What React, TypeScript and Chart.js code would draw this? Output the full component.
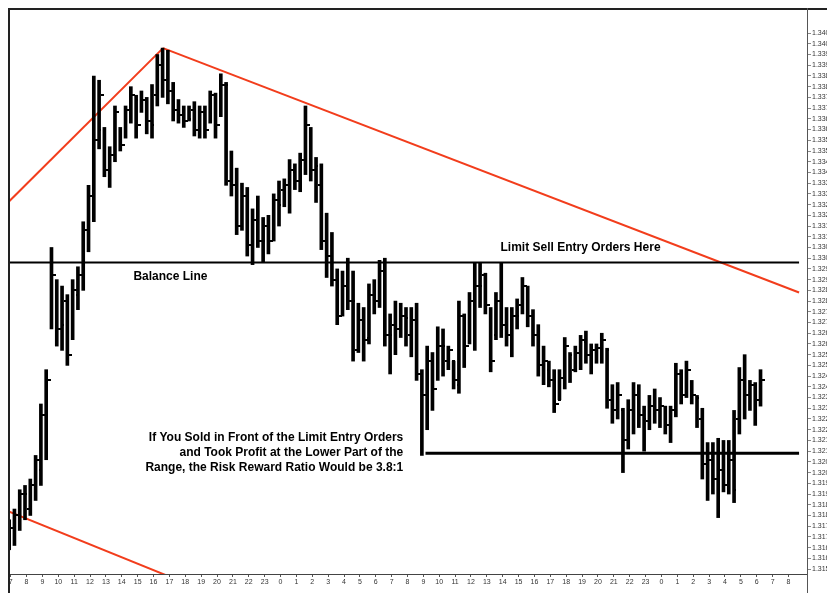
import React, { useEffect, useRef } from 'react';
import { Chart, registerables } from 'chart.js';

Chart.register(...registerables);

// ---- x axis: hourly tick labels (20-minute bars, 3 per hour) ----
const hourLabels = [
  '7', '8', '9', '10', '11', '12', '13', '14', '15', '16', '17', '18', '19', '20', '21', '22', '23',
  '0', '1', '2', '3', '4', '5', '6', '7', '8', '9', '10', '11', '12', '13', '14', '15', '16', '17', '18', '19', '20', '21', '22', '23',
  '0', '1', '2', '3', '4', '5', '6', '7', '8',
];

// ---- price bars ----
const highs = [
  1.3178, 1.3183, 1.3192, 1.3194, 1.3197, 1.3208, 1.3232, 1.3248, 1.3305, 1.3290,
  1.3287, 1.3283, 1.3290, 1.3296, 1.3317, 1.3334, 1.3385, 1.3383, 1.3361, 1.3352,
  1.3371, 1.3361, 1.3371, 1.3380, 1.3376, 1.3378, 1.3375, 1.3381, 1.3395, 1.3398,
  1.3397, 1.3382, 1.3374, 1.3371, 1.3371, 1.3373, 1.3371, 1.3371, 1.3378, 1.3377,
  1.3386, 1.3382, 1.3350, 1.3342, 1.3335, 1.3333, 1.3323, 1.3329, 1.3319, 1.3320,
  1.3330, 1.3336, 1.3337, 1.3346, 1.3344, 1.3349, 1.3371, 1.3361, 1.3347, 1.3344,
  1.3321, 1.3312, 1.3295, 1.3294, 1.3300, 1.3294, 1.3279, 1.3277, 1.3288, 1.3290,
  1.3299, 1.3300, 1.3274, 1.3280, 1.3279, 1.3277, 1.3277, 1.3279, 1.3248, 1.3259,
  1.3256, 1.3268, 1.3267, 1.3259, 1.3252, 1.3280, 1.3274, 1.3284, 1.3298, 1.3298,
  1.3293, 1.3277, 1.3284, 1.3298, 1.3277, 1.3277, 1.3281, 1.3291, 1.3287, 1.3276,
  1.3269, 1.3259, 1.3252, 1.3248, 1.3248, 1.3263, 1.3256, 1.3259, 1.3264, 1.3266,
  1.3260, 1.3260, 1.3265, 1.3258, 1.3241, 1.3242, 1.3230, 1.3234, 1.3242, 1.3241,
  1.3231, 1.3236, 1.3239, 1.3235, 1.3231, 1.3231, 1.3251, 1.3248, 1.3252, 1.3243,
  1.3236, 1.3230, 1.3214, 1.3214, 1.3216, 1.3215, 1.3215, 1.3229, 1.3249, 1.3255,
  1.3243, 1.3242, 1.3248,
];

const lows = [
  1.3164, 1.3166, 1.3173, 1.3178, 1.3180, 1.3187, 1.3194, 1.3206, 1.3267, 1.3259,
  1.3257, 1.3250, 1.3262, 1.3276, 1.3285, 1.3303, 1.3317, 1.3351, 1.3338, 1.3333,
  1.3345, 1.3350, 1.3356, 1.3363, 1.3356, 1.3368, 1.3358, 1.3356, 1.3371, 1.3375,
  1.3372, 1.3364, 1.3363, 1.3361, 1.3364, 1.3357, 1.3356, 1.3356, 1.3363, 1.3356,
  1.3366, 1.3334, 1.3329, 1.3311, 1.3313, 1.3301, 1.3297, 1.3305, 1.3298, 1.3302,
  1.3308, 1.3315, 1.3324, 1.3321, 1.3332, 1.3331, 1.3339, 1.3336, 1.3326, 1.3304,
  1.3291, 1.3287, 1.3269, 1.3273, 1.3276, 1.3252, 1.3256, 1.3252, 1.3260, 1.3274,
  1.3277, 1.3259, 1.3246, 1.3255, 1.3263, 1.3259, 1.3254, 1.3243, 1.3208, 1.3220,
  1.3229, 1.3243, 1.3245, 1.3248, 1.3239, 1.3237, 1.3249, 1.3260, 1.3257, 1.3277,
  1.3274, 1.3247, 1.3262, 1.3263, 1.3259, 1.3254, 1.3267, 1.3274, 1.3268, 1.3259,
  1.3245, 1.3241, 1.3240, 1.3228, 1.3234, 1.3239, 1.3242, 1.3247, 1.3248, 1.3251,
  1.3246, 1.3251, 1.3251, 1.3230, 1.3223, 1.3225, 1.3200, 1.3211, 1.3218, 1.3221,
  1.3210, 1.3220, 1.3223, 1.3221, 1.3218, 1.3214, 1.3226, 1.3232, 1.3235, 1.3232,
  1.3221, 1.3197, 1.3187, 1.3190, 1.3179, 1.3191, 1.3190, 1.3186, 1.3218, 1.3225,
  1.3229, 1.3222, 1.3231,
];

const opens = [
  1.3166, 1.3173, 1.3180, 1.3190, 1.3183, 1.3192, 1.3201, 1.3225, 1.3271, 1.3287,
  1.3269, 1.3280, 1.3264, 1.3283, 1.3290, 1.3308, 1.3327, 1.3360, 1.3360, 1.3341,
  1.3348, 1.3360, 1.3357, 1.3367, 1.3374, 1.3369, 1.3371, 1.3362, 1.3374, 1.3390,
  1.3383, 1.3378, 1.3369, 1.3367, 1.3365, 1.3369, 1.3361, 1.3368, 1.3364, 1.3375,
  1.3367, 1.3381, 1.3339, 1.3336, 1.3315, 1.3329, 1.3306, 1.3318, 1.3308, 1.3315,
  1.3309, 1.3325, 1.3329, 1.3332, 1.3340, 1.3336, 1.3346, 1.3360, 1.3343, 1.3334,
  1.3311, 1.3301, 1.3290, 1.3276, 1.3287, 1.3280, 1.3259, 1.3271, 1.3263, 1.3283,
  1.3280, 1.3294, 1.3264, 1.3269, 1.3267, 1.3272, 1.3264, 1.3271, 1.3246, 1.3234,
  1.3252, 1.3244, 1.3259, 1.3252, 1.3252, 1.3241, 1.3272, 1.3262, 1.3280, 1.3287,
  1.3291, 1.3276, 1.3264, 1.3280, 1.3271, 1.3264, 1.3273, 1.3278, 1.3286, 1.3273,
  1.3264, 1.3250, 1.3248, 1.3243, 1.3234, 1.3243, 1.3255, 1.3249, 1.3256, 1.3261,
  1.3255, 1.3257, 1.3258, 1.3257, 1.3234, 1.3229, 1.3229, 1.3215, 1.3229, 1.3236,
  1.3225, 1.3225, 1.3231, 1.3229, 1.3229, 1.3222, 1.3229, 1.3246, 1.3236, 1.3242,
  1.3235, 1.3225, 1.3204, 1.3206, 1.3197, 1.3201, 1.3194, 1.3192, 1.3225, 1.3243,
  1.3236, 1.3241, 1.3234,
];

const closes = [
  1.3174, 1.3180, 1.3190, 1.3183, 1.3194, 1.3206, 1.3227, 1.3243, 1.3292, 1.3267,
  1.3280, 1.3255, 1.3285, 1.3292, 1.3313, 1.3329, 1.3355, 1.3376, 1.3341, 1.3348,
  1.3368, 1.3353, 1.3369, 1.3376, 1.3362, 1.3374, 1.3364, 1.3376, 1.3390, 1.3383,
  1.3378, 1.3369, 1.3367, 1.3364, 1.3369, 1.3360, 1.3368, 1.3360, 1.3376, 1.3362,
  1.3381, 1.3336, 1.3334, 1.3315, 1.3329, 1.3306, 1.3318, 1.3308, 1.3315, 1.3308,
  1.3327, 1.3332, 1.3334, 1.3341, 1.3336, 1.3346, 1.3362, 1.3341, 1.3334, 1.3308,
  1.3301, 1.3290, 1.3273, 1.3287, 1.3280, 1.3257, 1.3271, 1.3262, 1.3283, 1.3280,
  1.3294, 1.3264, 1.3269, 1.3267, 1.3273, 1.3264, 1.3271, 1.3246, 1.3236, 1.3252,
  1.3239, 1.3259, 1.3252, 1.3257, 1.3243, 1.3273, 1.3259, 1.3280, 1.3287, 1.3292,
  1.3278, 1.3252, 1.3280, 1.3269, 1.3264, 1.3273, 1.3278, 1.3287, 1.3273, 1.3264,
  1.3250, 1.3252, 1.3243, 1.3232, 1.3244, 1.3259, 1.3248, 1.3256, 1.3262, 1.3255,
  1.3257, 1.3258, 1.3262, 1.3234, 1.3229, 1.3236, 1.3215, 1.3229, 1.3236, 1.3227,
  1.3224, 1.3231, 1.3229, 1.3231, 1.3222, 1.3229, 1.3246, 1.3236, 1.3248, 1.3236,
  1.3225, 1.3204, 1.3206, 1.3197, 1.3201, 1.3194, 1.3206, 1.3225, 1.3243, 1.3236,
  1.3241, 1.3234, 1.3243,
];

// ---- y axis tick labels ----
const yTicks = [
  1.3155, 1.3160, 1.3165, 1.3170, 1.3175, 1.3180, 1.3185, 1.3190, 1.3195, 1.3200,
  1.3205, 1.3210, 1.3215, 1.3220, 1.3225, 1.3230, 1.3235, 1.3240, 1.3245, 1.3250,
  1.3255, 1.3260, 1.3265, 1.3270, 1.3275, 1.3280, 1.3285, 1.3290, 1.3295, 1.3300,
  1.3305, 1.3310, 1.3315, 1.3320, 1.3325, 1.3330, 1.3335, 1.3340, 1.3345, 1.3350,
  1.3355, 1.3360, 1.3365, 1.3370, 1.3375, 1.3380, 1.3385, 1.3390, 1.3395, 1.3400,
  1.3405,
];

// ---- horizontal levels and trend lines (x in bar-index units) ----
const balanceLine = [{ x: -0.5, y: 1.3298 }, { x: 149, y: 1.3298 }];
const profitLine = [{ x: 78.4, y: 1.3209 }, { x: 149, y: 1.3209 }];
const upTrend = [{ x: -0.5, y: 1.3326 }, { x: 28.8, y: 1.3398 }];
const downTrend = [{ x: 28.8, y: 1.3398 }, { x: 149, y: 1.3284 }];
const lowerTrend = [{ x: -0.5, y: 1.3182 }, { x: 31.5, y: 1.3150 }];

// ---- annotation texts ----
const balanceText = 'Balance Line';
const limitText = 'Limit Sell Entry Orders Here';
const rrText = [
  'If You Sold in Front of the Limit Entry Orders',
  'and Took Profit at the Lower Part of the',
  'Range, the Risk Reward Ratio Would be 3.8:1',
];

const categories: string[] = [];
hourLabels.forEach((h) => { categories.push(h, '', ''); });
categories.push('');

const Y_MIN = 1.31527;
const Y_MAX = 1.34167;
const RED = '#f23d1c';
const FONT = '"Liberation Sans", Arial, sans-serif';

const framePlugin = {
  id: 'frame',
  afterDraw(chart: any) {
    const { ctx, chartArea, width, height } = chart;
    ctx.save();
    ctx.strokeStyle = '#222';
    ctx.lineWidth = 2;
    ctx.beginPath();
    ctx.moveTo(0, 1);
    ctx.lineTo(width, 1);
    ctx.moveTo(1, 0);
    ctx.lineTo(1, height);
    ctx.stroke();
    ctx.strokeStyle = '#555';
    ctx.lineWidth = 1;
    ctx.beginPath();
    ctx.moveTo(Math.round(chartArea.right) + 0.5, 0);
    ctx.lineTo(Math.round(chartArea.right) + 0.5, height);
    ctx.stroke();
    ctx.restore();
  },
};

const ohlcTicksPlugin = {
  id: 'ohlcTicks',
  afterDatasetsDraw(chart: any) {
    const { ctx } = chart;
    const xs = chart.scales.x;
    const ys = chart.scales.y;
    ctx.save();
    ctx.strokeStyle = '#000';
    ctx.lineWidth = 2;
    ctx.beginPath();
    for (let i = 0; i < highs.length; i++) {
      const cx = Math.round(xs.getPixelForValue(i));
      const oy = Math.round(ys.getPixelForValue(opens[i]));
      const cy = Math.round(ys.getPixelForValue(closes[i]));
      ctx.moveTo(cx - 3, oy);
      ctx.lineTo(cx, oy);
      ctx.moveTo(cx, cy);
      ctx.lineTo(cx + 3, cy);
    }
    ctx.stroke();
    ctx.restore();
  },
};

const notesPlugin = {
  id: 'notes',
  afterDatasetsDraw(chart: any) {
    const { ctx } = chart;
    const x2 = chart.scales.x2;
    const ys = chart.scales.y;
    ctx.save();
    ctx.fillStyle = '#000';
    ctx.font = `bold 12px ${FONT}`;
    ctx.textBaseline = 'middle';
    const by = ys.getPixelForValue(balanceLine[0].y);
    ctx.textAlign = 'center';
    ctx.fillText(balanceText, x2.getPixelForValue(30.2), by + 14);
    ctx.fillText(limitText, x2.getPixelForValue(107.7), by - 15);
    const py = ys.getPixelForValue(profitLine[0].y);
    ctx.textAlign = 'right';
    rrText.forEach((t, k) => {
      ctx.fillText(t, x2.getPixelForValue(74.2), py - 16 + k * 15);
    });
    ctx.restore();
  },
};

export default function App() {
  const ref = useRef<HTMLCanvasElement | null>(null);

  useEffect(() => {
    document.body.style.overflow = 'hidden';
    if (!ref.current) return;
    const lineDs = (data: any[], color: string, width: number) => ({
      type: 'line' as const,
      data,
      xAxisID: 'x2',
      yAxisID: 'y',
      borderColor: color,
      borderWidth: width,
      pointRadius: 0,
      fill: false,
      tension: 0,
    });
    const chart = new Chart(ref.current, {
      type: 'bar',
      data: {
        labels: categories,
        datasets: [
          {
            type: 'bar',
            data: highs.map((h, i) => [lows[i], h]),
            backgroundColor: '#000',
            borderWidth: 0,
            barThickness: 3,
            xAxisID: 'x',
            yAxisID: 'y',
          } as any,
          lineDs(balanceLine, '#000', 2),
          lineDs(profitLine, '#000', 3),
          lineDs(upTrend, RED, 2),
          lineDs(downTrend, RED, 2),
          lineDs(lowerTrend, RED, 2),
        ],
      },
      options: {
        animation: false,
        responsive: false,
        events: [],
        layout: { padding: 0 },
        plugins: {
          legend: { display: false },
          tooltip: { enabled: false },
          title: { display: false },
        },
        scales: {
          x: {
            type: 'category',
            offset: true,
            grid: {
              display: true,
              drawOnChartArea: false,
              offset: false,
              tickLength: 3,
              color: '#555',
            },
            border: { display: true, color: '#444', width: 1 },
            ticks: {
              autoSkip: false,
              maxRotation: 0,
              minRotation: 0,
              padding: 1,
              color: '#333',
              font: { size: 7, family: FONT },
              callback: (_v: any, idx: number) => (categories[idx] ? categories[idx] : null),
            },
            afterFit: (s: any) => {
              s.height = 19;
              s.paddingLeft = 0;
              s.paddingRight = 0;
            },
          },
          x2: {
            type: 'linear',
            display: false,
            offset: false,
            bounds: 'data',
            grid: { offset: false },
            min: -0.5,
            max: categories.length - 0.5,
          },
          y: {
            type: 'linear',
            position: 'right',
            min: Y_MIN,
            max: Y_MAX,
            grid: {
              display: true,
              drawOnChartArea: false,
              tickLength: 4,
              color: '#888',
            },
            border: { display: true, color: '#444', width: 1 },
            afterBuildTicks: (s: any) => {
              s.ticks = yTicks.map((value) => ({ value }));
            },
            ticks: {
              autoSkip: false,
              padding: 1,
              color: '#333',
              font: { size: 7, family: FONT },
              callback: (v: any) => Number(v).toFixed(4),
            },
            afterFit: (s: any) => {
              s.width = 28;
              s.paddingTop = 0;
              s.paddingBottom = 0;
            },
          },
        },
      },
      plugins: [ohlcTicksPlugin, notesPlugin, framePlugin],
    });
    return () => chart.destroy();
  }, []);

  return (
    <div style={{ width: 827, height: 585 }}>
      <canvas ref={ref} width={827} height={585} style={{ display: 'block' }} />
    </div>
  );
}
